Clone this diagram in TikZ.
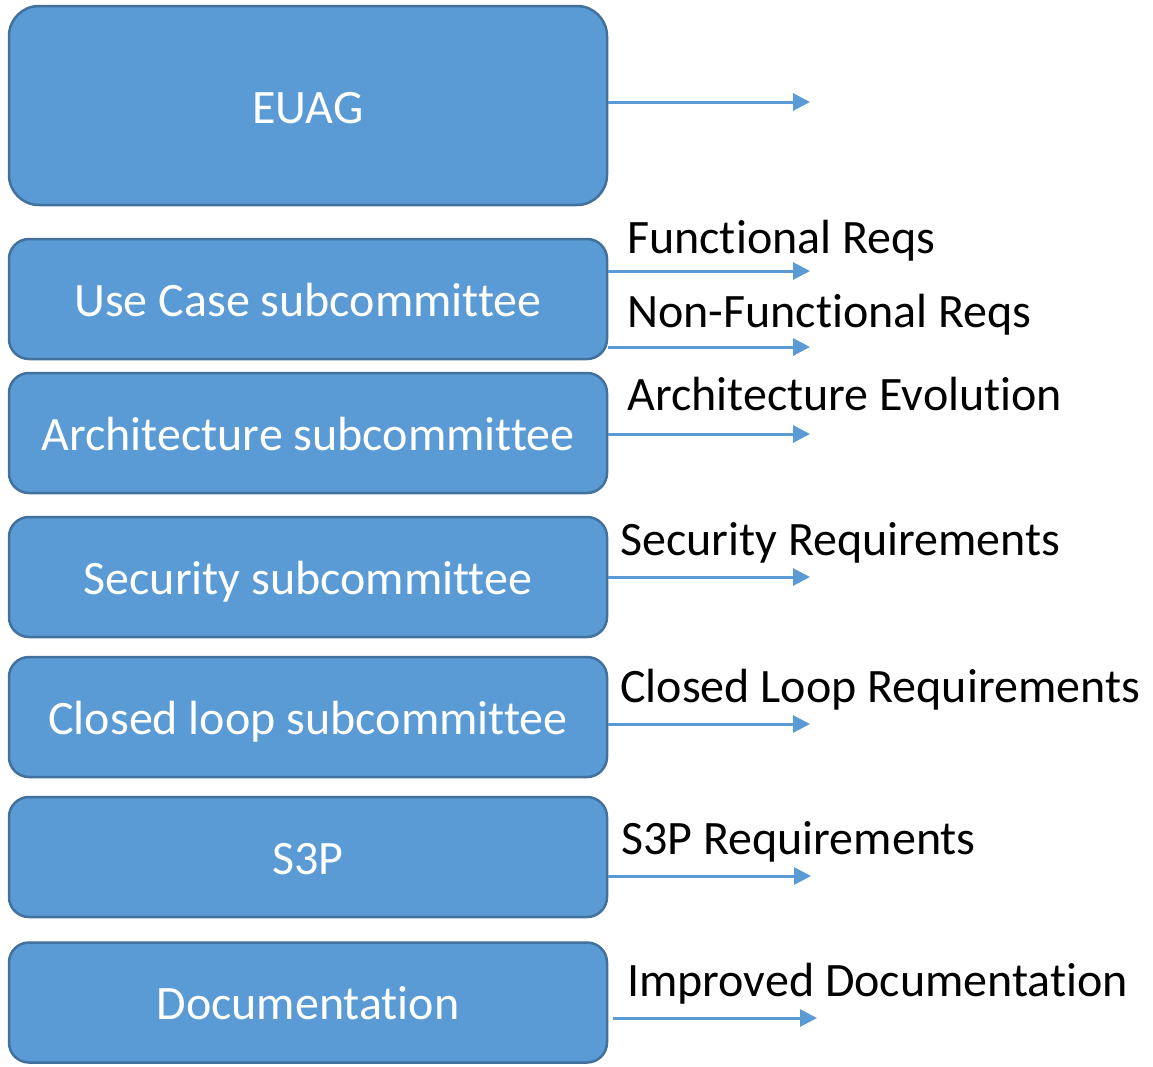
\documentclass[tikz,border=0pt]{standalone}
\usepackage{fontspec}
\setmainfont[Ligatures=NoCommon]{Carlito}
\usetikzlibrary{arrows.meta}
\definecolor{boxfill}{HTML}{5B9BD5}
\definecolor{boxline}{HTML}{41719C}
\tikzset{
  cbox/.style={draw=boxline, line width=2.5pt, fill=boxfill, rounded corners=20pt,
    minimum width=598pt, minimum height=120pt, inner sep=0pt, text=white,
    text height=31pt, text depth=0pt,
    font=\fontsize{48pt}{54pt}\selectfont},
  cboxtext/.style={anchor=base, inner sep=0pt, text=white, font=\fontsize{48pt}{54pt}\selectfont},
  arr/.style={draw=boxfill, line width=3pt, -{Triangle[length=17pt,width=17pt]}},
  lbl/.style={anchor=base west, inner sep=0pt, text=black, font=\fontsize{48pt}{54pt}\selectfont}
}
\begin{document}
\begin{tikzpicture}[x=1pt,y=-1pt]
\useasboundingbox[fill=white] (0,0) rectangle (1153,1066);
\node[cbox, minimum height=199pt, rounded corners=30pt] (euag) at (308,105.5) {};
\node[cbox] (uc) at (308,299) {};
\node[cbox] (arch) at (308,433) {};
\node[cbox] (sec) at (308,577) {};
\node[cbox] (cl) at (308,717) {};
\node[cbox] (s3p) at (308,857) {};
\node[cbox] (doc) at (308,1002.5) {};

\node[cboxtext] (t1) at ([yshift=-18pt]euag.center) {EUAG};
\node[cboxtext] (t2) at ([yshift=-17pt]uc.center) {Use Case subcommittee};
\node[cboxtext] (t3) at ([yshift=-17pt]arch.center) {Architecture subcommittee};
\node[cboxtext] (t4) at ([yshift=-17pt]sec.center) {Security subcommittee};
\node[cboxtext] (t5) at ([yshift=-17pt]cl.center) {Closed loop subcommittee};
\node[cboxtext] (t6) at ([yshift=-17pt]s3p.center) {S3P};
\node[cboxtext] (t7) at ([yshift=-17pt]doc.center) {Documentation};

\coordinate (e1) at (810,102);
\coordinate (e2) at (810,271);
\coordinate (e3) at (810,347);
\coordinate (e4) at (810,434);
\coordinate (e5) at (810,577);
\coordinate (e6) at (810,724);
\coordinate (e7) at (811,876);
\coordinate (e8) at (817,1018);

\draw[arr] (euag.east |- e1) -- (e1);
\draw[arr] (uc.east |- e2) -- (e2);
\draw[arr] (uc.east |- e3) -- (e3);
\draw[arr] (arch.east |- e4) -- (e4);
\draw[arr] (sec.east |- e5) -- (e5);
\draw[arr] (cl.east |- e6) -- (e6);
\draw[arr] (s3p.east |- e7) -- (e7);
\draw[arr] ([xshift=5pt]doc.east |- e8) -- (e8);

\node[lbl] (l2) at (627,253) {Functional Reqs};
\node[lbl] (l3) at (627,327) {Non-Functional Reqs};
\node[lbl] (l4) at (627,410) {Architecture Evolution};
\node[lbl] (l5) at (620,555) {Security Requirements};
\node[lbl] (l6) at (620,702) {Closed Loop Requirements};
\node[lbl] (l7) at (621,854) {S3P Requirements};
\node[lbl] (l8) at (627,996) {Improved Documentation};
\end{tikzpicture}
\end{document}
